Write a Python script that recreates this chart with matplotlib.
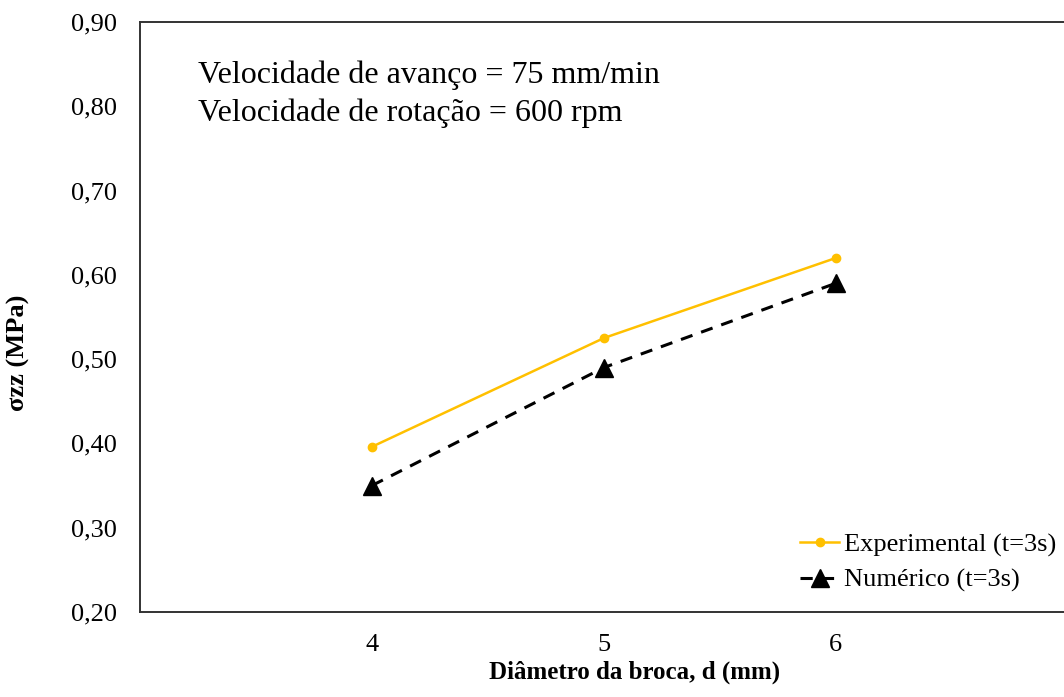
import matplotlib.pyplot as plt
from matplotlib.ticker import FuncFormatter

plt.rcParams["font.family"] = ["Liberation Serif", "DejaVu Serif"]

diametro = [4, 5, 6]
sigma_exp = [0.396, 0.525, 0.620]
sigma_num = [0.35, 0.49, 0.59]
y_ticks = [0.20, 0.30, 0.40, 0.50, 0.60, 0.70, 0.80, 0.90]

fig = plt.figure(figsize=(10.64, 6.97), dpi=100)
ax = fig.add_axes([0.1316, 0.122, 0.872, 0.8465])

ax.plot(diametro, sigma_exp, color="#FFC000", lw=1.8, marker="o", ms=6,
        label="Experimental (t=3s)")
ax.plot(diametro, sigma_num, color="black", lw=2.2, ls=(0, (4, 3)),
        marker="^", ms=13, label="Numérico (t=3s)")

ax.set_xlim(3, 7)
ax.set_ylim(0.20, 0.90)
ax.set_xticks(diametro)
ax.set_yticks(y_ticks)
ax.yaxis.set_major_formatter(FuncFormatter(lambda v, p: f"{v:.2f}".replace(".", ",")))
ax.tick_params(length=0, labelsize=19, colors="black")
ax.tick_params(axis="y", pad=16.5)
ax.tick_params(axis="x", pad=16)

for s in ["left", "bottom", "top"]:
    ax.spines[s].set_linewidth(1.4)
    ax.spines[s].set_color("#333333")
ax.spines["right"].set_visible(False)

ax.set_xlabel("Diâmetro da broca, d (mm)", fontsize=18, fontweight="bold", va="center")
ax.xaxis.set_label_coords(0.533, -0.102)
ax.set_ylabel("σzz (MPa)", fontsize=19, fontweight="bold", va="center", ha="center")
ax.yaxis.set_label_coords(-0.131, 0.44)

ax.text(0.062, 0.91, "Velocidade de avanço = 75 mm/min", transform=ax.transAxes,
        fontsize=23, va="center")
ax.text(0.062, 0.846, "Velocidade de rotação = 600 rpm", transform=ax.transAxes,
        fontsize=23, va="center")

ax.legend(loc="lower left", bbox_to_anchor=(0.730, 0.116), bbox_transform=fig.transFigure,
          frameon=False, fontsize=19, handlelength=1.45, handletextpad=0.2,
          labelspacing=0.45)

fig.savefig("out.png", dpi=100)
